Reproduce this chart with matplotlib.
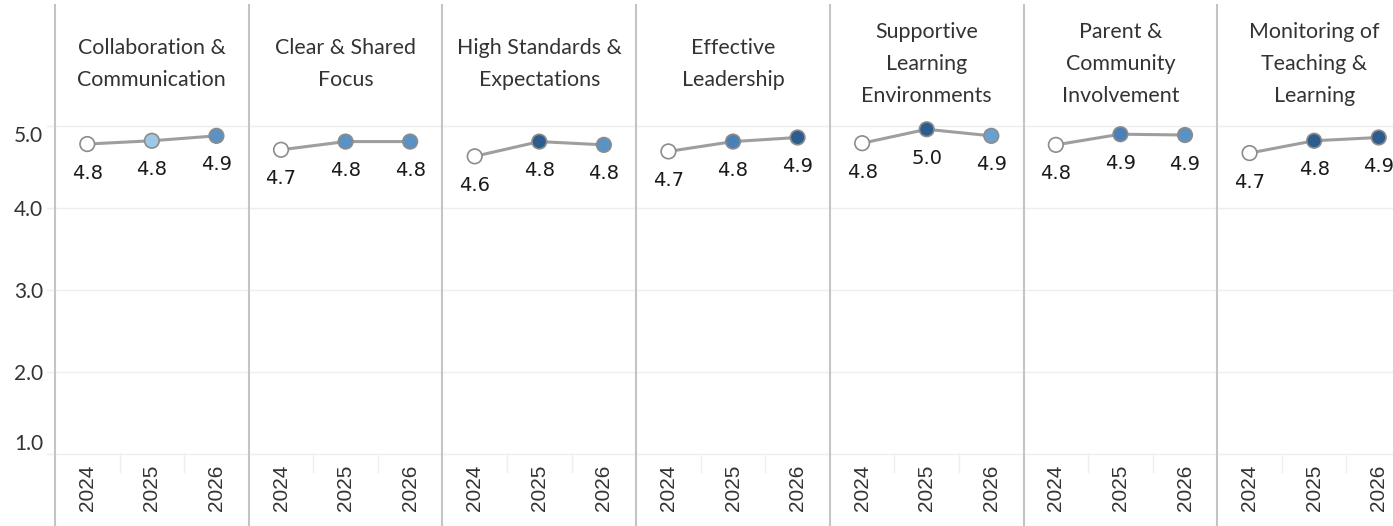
import matplotlib.pyplot as plt

# Daten
categories = [
    "Collaboration &\nCommunication",
    "Clear & Shared\nFocus",
    "High Standards &\nExpectations",
    "Effective\nLeadership",
    "Supportive\nLearning\nEnvironments",
    "Parent &\nCommunity\nInvolvement",
    "Monitoring of\nTeaching &\nLearning",
]
years = ["2024", "2025", "2026"]
score_2024 = [4.78, 4.71, 4.63, 4.69, 4.79, 4.77, 4.67]
score_2025 = [4.82, 4.81, 4.81, 4.81, 4.96, 4.90, 4.82]
score_2026 = [4.88, 4.81, 4.77, 4.86, 4.88, 4.89, 4.86]
y_ticks = [1.0, 2.0, 3.0, 4.0, 5.0]

# Farben der Punkte (2024 immer weiss)
LIGHT, MID, DARK, MID2 = "#9ccae6", "#5a92c4", "#2d5d8e", "#4a80b5"
fill_2025 = [LIGHT, MID, DARK, MID2, DARK, MID2, DARK]
fill_2026 = [MID, MID, MID, DARK, "#6aa0d0", MID, DARK]

W, H = 1393, 526
fig = plt.figure(figsize=(W / 100, H / 100), dpi=100)
ax_left, ax_right, ax_top, ax_bot = 55, 1411, 126, 454
ax = fig.add_axes([ax_left / W, (H - ax_bot) / H,
                   (ax_right - ax_left) / W, (ax_bot - ax_top) / H])

n = len(categories)
ax.set_xlim(-0.5, 3 * n - 0.5)
ax.set_ylim(1.0, 5.0)
for s in ax.spines.values():
    s.set_visible(False)
ax.set_xticks([])

# horizontale Gitterlinien
for t in y_ticks:
    ax.axhline(t, xmin=-8 / (ax_right - ax_left), xmax=1, color="#eeeeee",
               lw=1, zorder=0, clip_on=False)

# y-Achse
ax.set_yticks(y_ticks)
ax.set_yticklabels([f"{t:.1f}" for t in y_ticks], family="Lato",
                   fontsize=15, color="#333333")
ax.tick_params(axis="y", length=0, pad=8.5)
labs = ax.get_yticklabels()
labs[-1].set_va("top")
labs[0].set_va("bottom")

# vertikale Trennlinien
ymin = (ax_bot - H) / (ax_bot - ax_top)
ymax = (ax_bot - 5) / (ax_bot - ax_top)
for i in range(n):
    ax.axvline(3 * i - 0.5, ymin=ymin, ymax=ymax, color="#c4c4c4",
               lw=1.5, clip_on=False, zorder=1)
    for k in (0.5, 1.5):
        ax.axvline(3 * i + k, ymin=-18 / (ax_bot - ax_top), ymax=0,
                   color="#eeeeee", lw=1, clip_on=False)

xtr = ax.get_xaxis_transform()
head_y = (ax_bot - 64) / (ax_bot - ax_top)
year_y = (ax_bot - 488) / (ax_bot - ax_top)

for i, cat in enumerate(categories):
    xs = [3 * i, 3 * i + 1, 3 * i + 2]
    ys = [score_2024[i], score_2025[i], score_2026[i]]
    cols = ["white", fill_2025[i], fill_2026[i]]
    ax.plot(xs, ys, color="#9e9e9e", lw=2.2, zorder=2, clip_on=False)
    ax.scatter(xs, ys, s=10.5 ** 2, c=cols, edgecolors="#8c8c8c",
               linewidths=1.2, zorder=3, clip_on=False)
    for x, y in zip(xs, ys):
        ax.annotate(f"{y:.1f}", (x, y), xytext=(0, -29),
                    textcoords="offset pixels", ha="center", va="center",
                    fontsize=14, family="DejaVu Sans", color="#1a1a1a")
    ax.text(3 * i + 1, head_y, cat, transform=xtr, ha="center", va="center",
            family="Lato", fontsize=15.4, color="#333333", linespacing=1.72)
    for j, yr in enumerate(years):
        ax.text(xs[j], year_y, yr, transform=xtr, rotation=90, ha="center",
                va="center", family="Liberation Sans", fontsize=15,
                color="#333333")

fig.savefig("out.png", dpi=100)
